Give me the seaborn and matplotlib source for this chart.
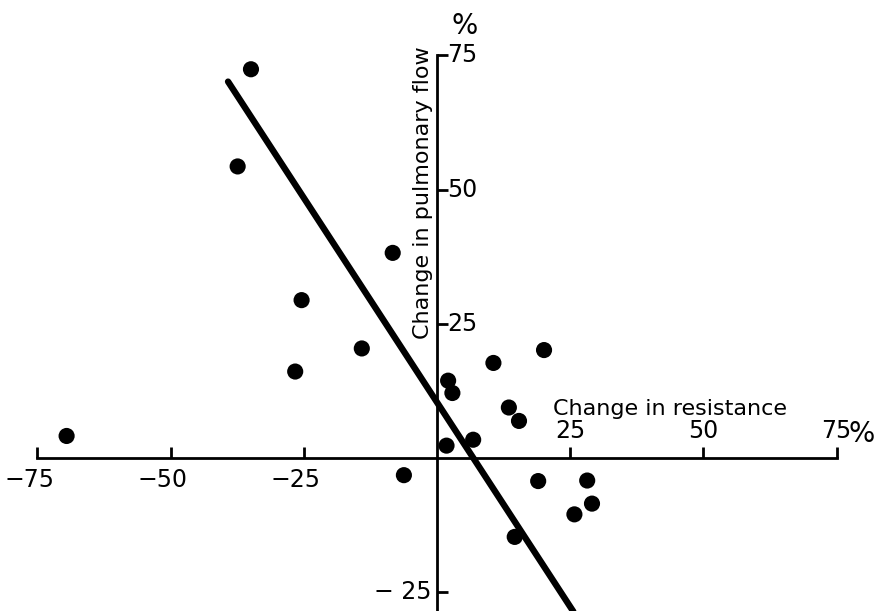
import seaborn as sns
import matplotlib.pyplot as plt
import pandas as pd

# change in resistance (%) vs change in pulmonary flow (%)
resistance = [-69.5, -37.4, -34.9, -26.6, -25.4, -14.1, -8.3, -6.2, 1.8, 2.1, 2.9,
              6.8, 10.6, 13.5, 15.4, 20.1, 14.6, 19.0, 28.2, 29.1, 25.8]
flow = [4.1, 54.3, 72.4, 16.1, 29.4, 20.4, 38.2, -3.2, 2.3, 14.4, 12.1,
        3.4, 17.7, 9.4, 6.9, 20.1, -14.7, -4.3, -4.2, -8.5, -10.5]

line_x = [-39.2, 25.6]
line_y = [70.1, -28.6]

x_ticks = [-75, -50, -25, 25, 50, 75]
x_labels = ["\u221275", "\u221250", "\u221225", "25", "50", "75"]
y_ticks = [-25, 25, 50, 75]
y_labels = ["\u2212 25", "25", "50", "75"]

df = pd.DataFrame({"resistance": resistance, "flow": flow})
line_df = pd.DataFrame({"x": line_x, "y": line_y})

sns.set_style("white")
plt.rcParams["font.family"] = ["DejaVu Sans"]
plt.rcParams["text.color"] = "black"

fig = plt.figure(figsize=(8.76, 6.11), dpi=100)
ax = fig.add_axes([0, 0, 1, 1])

sns.lineplot(data=line_df, x="x", y="y", color="black", linewidth=4.6, ax=ax)
sns.scatterplot(data=df, x="resistance", y="flow", color="black", s=135,
                edgecolor="none", ax=ax, zorder=3)

ax.set_xlim(-82, 82.4)
ax.set_ylim(-28.5, 85.3)
ax.set_xlabel("")
ax.set_ylabel("")

for side in ["top", "right"]:
    ax.spines[side].set_visible(False)
ax.spines["left"].set_position(("data", 0))
ax.spines["bottom"].set_position(("data", 0))
ax.spines["left"].set_bounds(-28.5, 75)
ax.spines["bottom"].set_bounds(-75, 75)
for side in ["left", "bottom"]:
    ax.spines[side].set_linewidth(2)
    ax.spines[side].set_color("black")

ax.set_xticks(x_ticks)
ax.set_yticks(y_ticks)
ax.tick_params(axis="x", bottom=True, direction="in", length=8, width=2,
               color="black", labelbottom=False)
ax.tick_params(axis="y", left=True, direction="in", length=8, width=2,
               color="black", labelleft=False)

# tick labels: negatives below / left, positives above / right
for xv, lab in zip(x_ticks, x_labels):
    if xv < 0:
        ax.text(xv - 1.5, -1.8, lab, ha="center", va="top", fontsize=17)
    else:
        ax.text(xv, 2.8, lab, ha="center", va="bottom", fontsize=17)
ax.text(77.3, 1.9, "%", ha="left", va="bottom", fontsize=20)

for yv, lab in zip(y_ticks, y_labels):
    if yv < 0:
        ax.text(-1.0, yv, lab, ha="right", va="center", fontsize=17)
    else:
        ax.text(2.0, yv, lab, ha="left", va="center", fontsize=17)
ax.text(5.2, 80.5, "%", ha="center", va="center", fontsize=20)

ax.text(43.7, 9.1, "Change in resistance", ha="center", va="center", fontsize=16)
ax.text(-2.6, 49.4, "Change in pulmonary flow", ha="center", va="center",
        rotation=90, fontsize=16)

plt.savefig("out.png", dpi=100)
plt.close()
